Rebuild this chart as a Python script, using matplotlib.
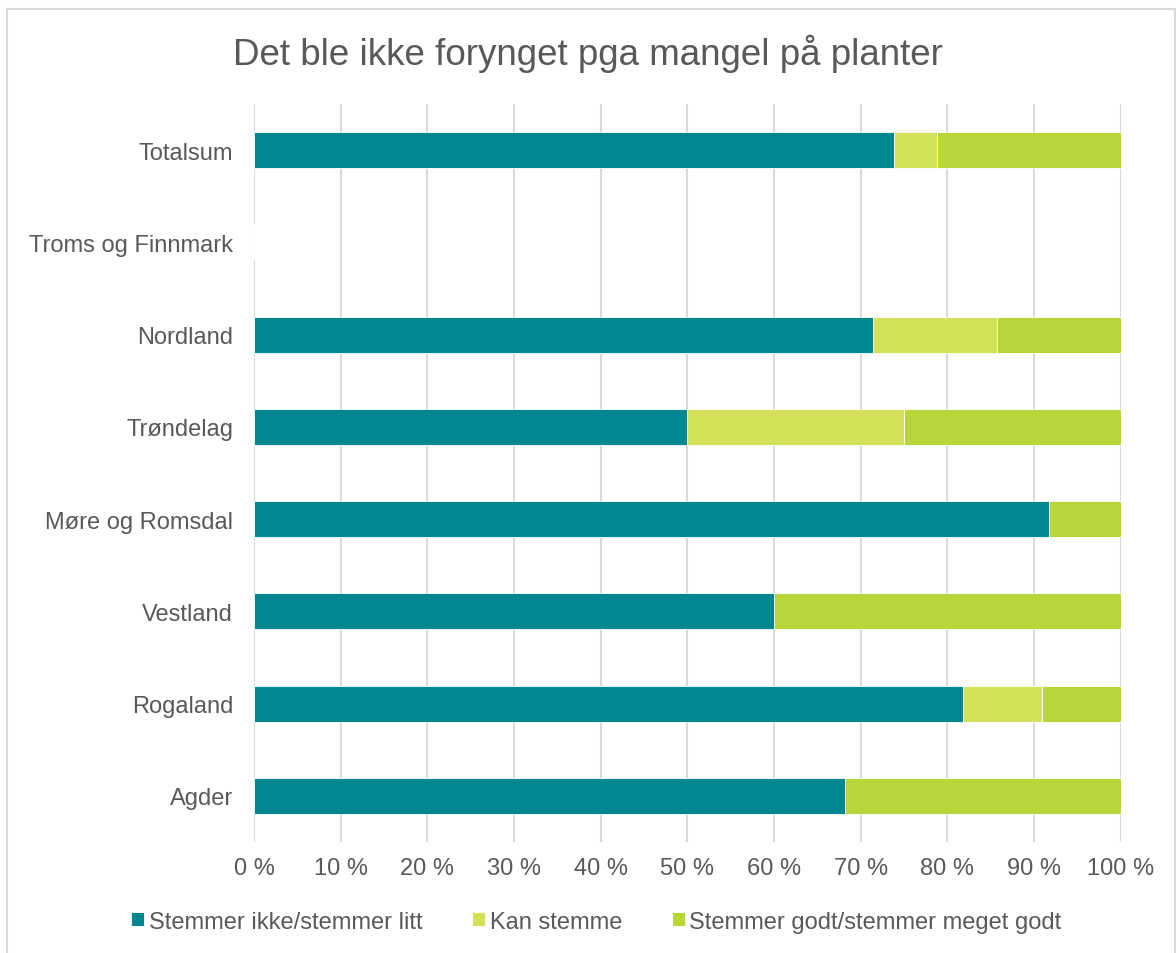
import matplotlib
matplotlib.use("Agg")
import matplotlib.pyplot as plt
from matplotlib.patches import Rectangle

plt.rcParams['font.family'] = ['Liberation Sans', 'DejaVu Sans']

categories = ["Agder", "Rogaland", "Vestland", "Møre og Romsdal", "Trøndelag",
              "Nordland", "Troms og Finnmark", "Totalsum"]
series_names = ["Stemmer ikke/stemmer litt", "Kan stemme", "Stemmer godt/stemmer meget godt"]
ikke = [68.2, 81.8, 60.0, 91.7, 50.0, 71.4, 0.0, 73.8]
kan = [0.0, 9.1, 0.0, 0.0, 25.0, 14.3, 0.0, 5.0]
godt = [31.8, 9.1, 40.0, 8.3, 25.0, 14.3, 0.0, 21.2]
colors = ["#00878F", "#D4DF5A", "#B8D53A"]
xticks = [0, 10, 20, 30, 40, 50, 60, 70, 80, 90, 100]
xticklabels = [f"{t} %" for t in xticks]

fig = plt.figure(figsize=(11.76, 9.54), dpi=100)
ax = fig.add_axes([0.216, 0.1164, 0.737, 0.7736])

y = list(range(len(categories)))
left = [0.0] * len(categories)
for vals, col, name in zip([ikke, kan, godt], colors, series_names):
    ax.barh(y, vals, left=left, height=0.39, color=col, edgecolor="white",
            linewidth=0.6, label=name, zorder=3)
    left = [l + v for l, v in zip(left, vals)]

ax.set_xlim(0, 100)
ax.set_ylim(-0.5, len(categories) - 0.5)
ax.set_xticks(xticks)
ax.set_xticklabels(xticklabels, fontsize=17, color="#595959")
ax.set_yticks(y)
ax.set_yticklabels(categories, fontsize=17, color="#595959")
ax.tick_params(axis="x", length=0, pad=11)
ax.tick_params(axis="y", length=0, pad=15)
ax.grid(axis="x", color="#D9D9D9", linewidth=1.5, zorder=0)
for s in ax.spines.values():
    s.set_visible(False)

fig.text(0.5, 0.944, "Det ble ikke forynget pga mangel på planter",
         ha="center", va="center", fontsize=26.5, color="#595959")

leg = fig.legend(loc="center", bbox_to_anchor=(0.507, 0.033), ncol=3, frameon=False,
                 fontsize=17, handlelength=0.55, handleheight=0.55, handletextpad=0.2,
                 columnspacing=2.1)
for t in leg.get_texts():
    t.set_color("#595959")

fig.patches.append(Rectangle((0.006, -0.01), 0.993, 1.0, transform=fig.transFigure,
                             fill=False, edgecolor="#D9D9D9", linewidth=1.5))

fig.savefig("out.png", dpi=100, facecolor="white")
